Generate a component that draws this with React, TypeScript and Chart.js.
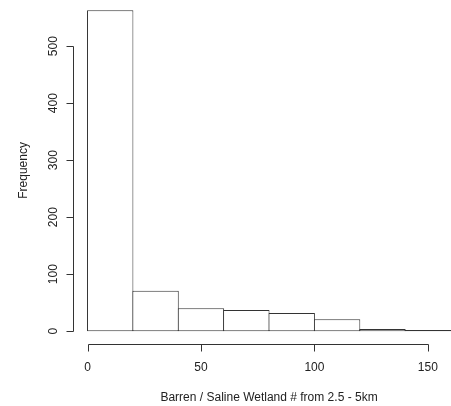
import React, { useEffect, useRef } from "react";
import { Chart, registerables } from "chart.js";

Chart.register(...registerables);

// Histogram data (R-style hist)
const binStarts = [0, 20, 40, 60, 80, 100, 120, 140];
const binWidth = 20;
const counts = [563, 71, 40, 37, 32, 21, 4, 2];
const xTicks = [0, 50, 100, 150];
const yTicks = [0, 100, 200, 300, 400, 500];
const xTitle = "Barren / Saline Wetland # from 2.5 - 5km";
const yTitle = "Frequency";

const FONT = '12px "Liberation Sans", Arial, Helvetica, sans-serif';
const INK = "#222";
const LINE = "#333";

const rAxes = {
  id: "rAxes",
  afterDraw(chart: any) {
    const ctx = chart.ctx as CanvasRenderingContext2D;
    const xs = chart.scales.x;
    const ys = chart.scales.y;
    const area = chart.chartArea;
    ctx.save();
    ctx.strokeStyle = LINE;
    ctx.fillStyle = INK;
    ctx.lineWidth = 1;
    ctx.font = FONT;

    // Y axis
    const ax = Math.round(area.left) + 0.5;
    const y0 = Math.round(ys.getPixelForValue(yTicks[0])) + 0.5;
    const y1 = Math.round(ys.getPixelForValue(yTicks[yTicks.length - 1])) + 0.5;
    ctx.beginPath();
    ctx.moveTo(ax, y0);
    ctx.lineTo(ax, y1);
    for (const t of yTicks) {
      const py = Math.round(ys.getPixelForValue(t)) + 0.5;
      ctx.moveTo(ax, py);
      ctx.lineTo(ax - 7, py);
    }
    ctx.stroke();
    ctx.textAlign = "center";
    ctx.textBaseline = "alphabetic";
    for (const t of yTicks) {
      const py = ys.getPixelForValue(t);
      ctx.save();
      ctx.translate(ax - 17, py);
      ctx.rotate(-Math.PI / 2);
      ctx.fillText(String(t), 0, 0);
      ctx.restore();
    }

    // X axis
    const ay = Math.round(area.bottom) + 0.5;
    const x0 = Math.round(xs.getPixelForValue(xTicks[0])) + 0.5;
    const x1 = Math.round(xs.getPixelForValue(xTicks[xTicks.length - 1])) + 0.5;
    ctx.beginPath();
    ctx.moveTo(x0, ay);
    ctx.lineTo(x1, ay);
    for (const t of xTicks) {
      const px = Math.round(xs.getPixelForValue(t)) + 0.5;
      ctx.moveTo(px, ay);
      ctx.lineTo(px, ay + 7);
    }
    ctx.stroke();
    for (const t of xTicks) {
      ctx.fillText(String(t), xs.getPixelForValue(t), ay + 26.5);
    }

    // Titles
    const cx = (area.left + xs.getPixelForValue(166.4)) / 2;
    ctx.fillText(xTitle, cx, ay + 56);
    ctx.save();
    const cy = (ys.getPixelForValue(586.5) + area.bottom) / 2;
    ctx.translate(26.5, cy);
    ctx.rotate(-Math.PI / 2);
    ctx.fillText(yTitle, 0, 0);
    ctx.restore();

    ctx.restore();
  },
};

export default function App() {
  const ref = useRef<HTMLCanvasElement | null>(null);

  useEffect(() => {
    if (!ref.current) return;
    const data = binStarts.map((s, i) => ({ x: s + binWidth / 2, y: counts[i] }));
    const chart = new Chart(ref.current, {
      type: "bar",
      data: {
        datasets: [
          {
            data,
            backgroundColor: "#ffffff",
            borderColor: LINE,
            borderWidth: 1,
            borderSkipped: false,
            barPercentage: 1.022,
            categoryPercentage: 1,
            inflateAmount: 0,
          } as any,
        ],
      },
      options: {
        responsive: false,
        animation: false,
        layout: { padding: { left: 73, right: 0, top: 0, bottom: 62 } },
        plugins: {
          legend: { display: false },
          tooltip: { enabled: false },
        },
        scales: {
          x: { type: "linear", min: -6.4, max: 160.2, display: false, offset: false },
          y: { type: "linear", min: -22.5, max: 581, display: false },
        },
      } as any,
      plugins: [rAxes],
    });
    return () => chart.destroy();
  }, []);

  return (
    <div
      style={{
        position: "fixed",
        left: 0,
        top: 0,
        width: 451,
        height: 406,
        background: "#fff",
        overflow: "hidden",
      }}
    >
      <canvas ref={ref} width={451} height={406} style={{ display: "block" }} />
    </div>
  );
}
